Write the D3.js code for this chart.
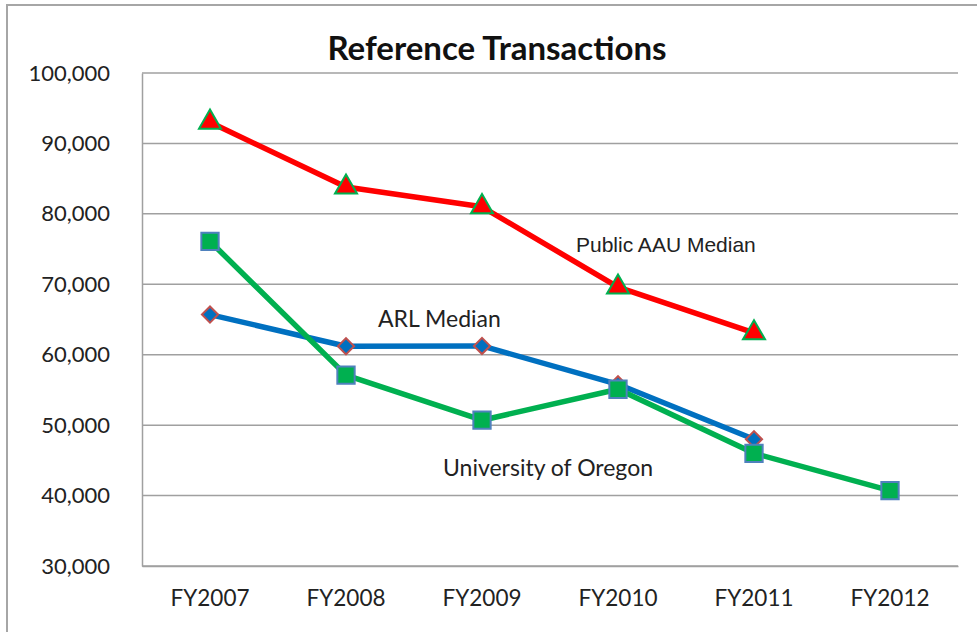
<!DOCTYPE html>
<html lang="en">

<head>
    <meta charset="utf-8">
    <title>Reference Transactions</title>
    <script type="text/javascript" src="https://d3js.org/d3.v7.min.js"></script>
    <style type="text/css">
        body { margin: 0; background: #fff; }
    </style>
</head>

<body>
    <script type="text/javascript">
        //Chart data
        const years = ['FY2007', 'FY2008', 'FY2009', 'FY2010', 'FY2011', 'FY2012'];
        const publicAAU = [93000, 83800, 81000, 69600, 63100, null];
        const arlMedian = [65700, 61200, 61250, 55800, 48000, null];
        const uOregon = [76100, 57100, 50700, 55100, 46000, 40700];
        const yTicks = [30000, 40000, 50000, 60000, 70000, 80000, 90000, 100000];

        const canvasWidth = 977;
        const canvasHeight = 632;
        const plot = { left: 142, right: 958, top: 73, bottom: 566 };

        const xScale = d3.scaleBand()
            .domain(years)
            .range([plot.left, plot.right])
        const yScale = d3.scaleLinear()
            .domain([30000, 100000])
            .range([plot.bottom, plot.top])

        const svg = d3.select('body')
            .append('svg')
            .attr('width', canvasWidth)
            .attr('height', canvasHeight)

        //Outer chart frame
        svg.append('rect')
            .attr('x', 7).attr('y', 5)
            .attr('width', 990).attr('height', 650)
            .attr('fill', 'none')
            .attr('stroke', '#a6a6a6')
            .attr('stroke-width', 2)

        //Gridlines
        svg.append('g')
            .selectAll('line')
            .data(yTicks)
            .enter()
            .append('line')
            .attr('x1', plot.left).attr('x2', plot.right)
            .attr('y1', d => yScale(d)).attr('y2', d => yScale(d))
            .attr('stroke', '#a0a0a0')
            .attr('stroke-width', 1.5)

        //Axes
        const leftAxis = d3.axisLeft(yScale)
            .tickValues(yTicks)
            .tickSize(0)
            .tickPadding(32)
            .tickFormat(d3.format(','))
        const yAxisG = svg.append('g')
            .attr('transform', 'translate(' + plot.left + ',0)')
            .call(leftAxis)
        yAxisG.select('.domain').attr('stroke', '#a0a0a0').attr('stroke-width', 1.5)
        yAxisG.selectAll('text')
            .attr('font-family', 'Lato, sans-serif')
            .attr('font-size', 22)
            .attr('fill', '#222')

        const bottomAxis = d3.axisBottom(xScale)
            .tickSize(0)
            .tickPadding(24)
        const xAxisG = svg.append('g')
            .attr('transform', 'translate(0,' + plot.bottom + ')')
            .call(bottomAxis)
        xAxisG.select('.domain').attr('stroke', '#a0a0a0').attr('stroke-width', 1.5)
        xAxisG.selectAll('text')
            .attr('font-family', 'Lato, sans-serif')
            .attr('font-size', 22.5)
            .attr('fill', '#222')

        const cx = i => xScale(years[i]) + xScale.bandwidth() / 2

        const series = [
            { name: 'ARL Median', values: arlMedian, color: '#0070c0', fill: '#0070c0', stroke: '#c0504d', symbol: d3.symbolSquare, size: 130, rot: 45 },
            { name: 'University of Oregon', values: uOregon, color: '#00b050', fill: '#00b050', stroke: '#4f81bd', symbol: d3.symbolSquare, size: 300, rot: 0 },
            { name: 'Public AAU Median', values: publicAAU, color: '#ff0000', fill: '#ff0000', stroke: '#00b050', symbol: d3.symbolTriangle, size: 210, rot: 0 }
        ]

        const line = d3.line()
            .defined(d => d.v !== null)
            .x(d => cx(d.i))
            .y(d => yScale(d.v))

        series.forEach(s => {
            const pts = s.values.map((v, i) => ({ v: v, i: i }))
            svg.append('path')
                .datum(pts)
                .attr('d', line)
                .attr('fill', 'none')
                .attr('stroke', s.color)
                .attr('stroke-width', 5.5)
                .attr('stroke-linejoin', 'round')
        })

        series.forEach(s => {
            const pts = s.values.map((v, i) => ({ v: v, i: i })).filter(d => d.v !== null)
            svg.append('g')
                .selectAll('path')
                .data(pts)
                .enter()
                .append('path')
                .attr('d', d3.symbol().type(s.symbol).size(s.size))
                .attr('transform', d => 'translate(' + cx(d.i) + ',' + yScale(d.v) + ') rotate(' + s.rot + ')')
                .attr('fill', s.fill)
                .attr('stroke', s.stroke)
                .attr('stroke-width', 2)
        })

        //Series labels
        svg.append('text')
            .attr('x', 576).attr('y', 252)
            .attr('font-family', 'Liberation Sans, Arial, sans-serif')
            .attr('font-size', 21)
            .attr('fill', '#222')
            .text('Public AAU Median')
        svg.append('text')
            .attr('x', 378).attr('y', 327)
            .attr('font-family', 'Lato, sans-serif')
            .attr('font-size', 23)
            .attr('fill', '#222')
            .text('ARL Median')
        svg.append('text')
            .attr('x', 443).attr('y', 476)
            .attr('font-family', 'Lato, sans-serif')
            .attr('font-size', 23)
            .attr('fill', '#222')
            .text('University of Oregon')

        //Title
        svg.append('text')
            .attr('x', 497).attr('y', 60)
            .attr('text-anchor', 'middle')
            .attr('font-family', 'Lato, sans-serif')
            .attr('font-weight', 'bold')
            .attr('font-size', 33)
            .attr('fill', '#111')
            .text('Reference Transactions')
    </script>
</body>

</html>
